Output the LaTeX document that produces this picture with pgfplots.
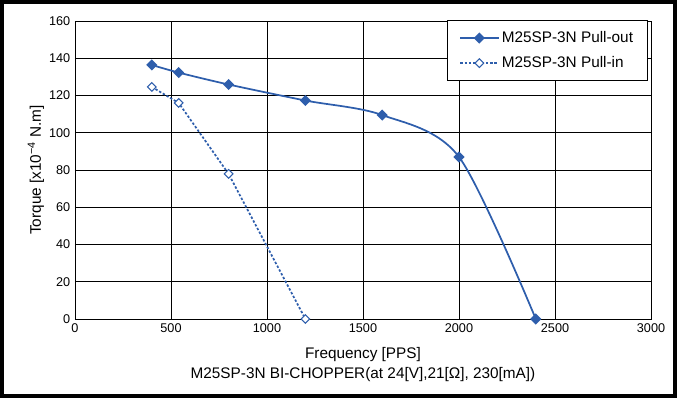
\documentclass[border=0pt]{standalone}
\usepackage{pgfplots}
\pgfplotsset{compat=1.18}
\usepackage{fontspec}
\setmainfont{Liberation Sans}
\definecolor{myblue}{RGB}{46,94,172}
\begin{document}
\begin{tikzpicture}
\useasboundingbox (-56.25pt,-59.25pt) rectangle (451.5pt,239.25pt);
\draw[line width=3pt] (-54.75pt,-57.75pt) rectangle (450pt,237.75pt);
\begin{axis}[
  at={(0,0)}, anchor=south west,
  scale only axis, width=432pt, height=223.5pt,
  xmin=0, xmax=3000, ymin=0, ymax=160,
  xtick={0,500,...,3000}, ytick={0,20,...,160},
  grid=major, grid style={black, line width=0.6pt},
  axis line style={black, line width=0.6pt},
  tick style={draw=none},
  /pgf/number format/assume math mode=true,
  /pgf/number format/1000 sep={},
  ticklabel style={font=\fontsize{9.5}{11}\selectfont},
  xlabel={Frequency [PPS]},
  ylabel={Torque [x10\textsuperscript{−4} N.m]},
  label style={font=\fontsize{11.5}{13}\selectfont},
  xlabel style={yshift=-4pt},
  ylabel style={yshift=-3pt},
  legend style={at={(rel axis cs:0.995,1.002)}, anchor=north east, draw=black, line width=0.6pt,
    font=\fontsize{11.5}{13}\selectfont, row sep=5pt, inner xsep=9pt, inner ysep=6pt, cells={anchor=west},
    /tikz/every even column/.append style={column sep=7pt}},
  legend cell align=left,
  legend image code/.code={\draw[mark repeat=2,mark phase=2,#1] plot coordinates {(0cm,0cm)(0.5cm,0cm)(1cm,0cm)};},
  clip=false,
]
\addplot[myblue, line width=1.3pt, smooth, tension=0.5, mark=square*, mark size=2.3pt,
  mark options={rotate=45, solid, fill=myblue}] coordinates {
  (400,136.4) (540,132.3) (800,125.9) (1200,117.3) (1600,109.5) (2000,87) (2400,0)};
\addlegendentry{M25SP-3N Pull-out}
\addplot[myblue, line width=1.3pt, dash pattern=on 1.8pt off 1.4pt, mark=square*, mark size=2.3pt,
  mark options={rotate=45, solid, fill=white, line width=0.8pt}] coordinates {
  (400,124.6) (540,116) (800,77.9) (1200,0)};
\addlegendentry{M25SP-3N Pull-in}
\node[font=\fontsize{11.5}{13}\selectfont, anchor=center] at ([yshift=-42pt]rel axis cs:0.5,0)
  {M25SP-3N BI-CHOPPER(at 24[V],21[Ω], 230[mA])};
\end{axis}
\end{tikzpicture}
\end{document}
